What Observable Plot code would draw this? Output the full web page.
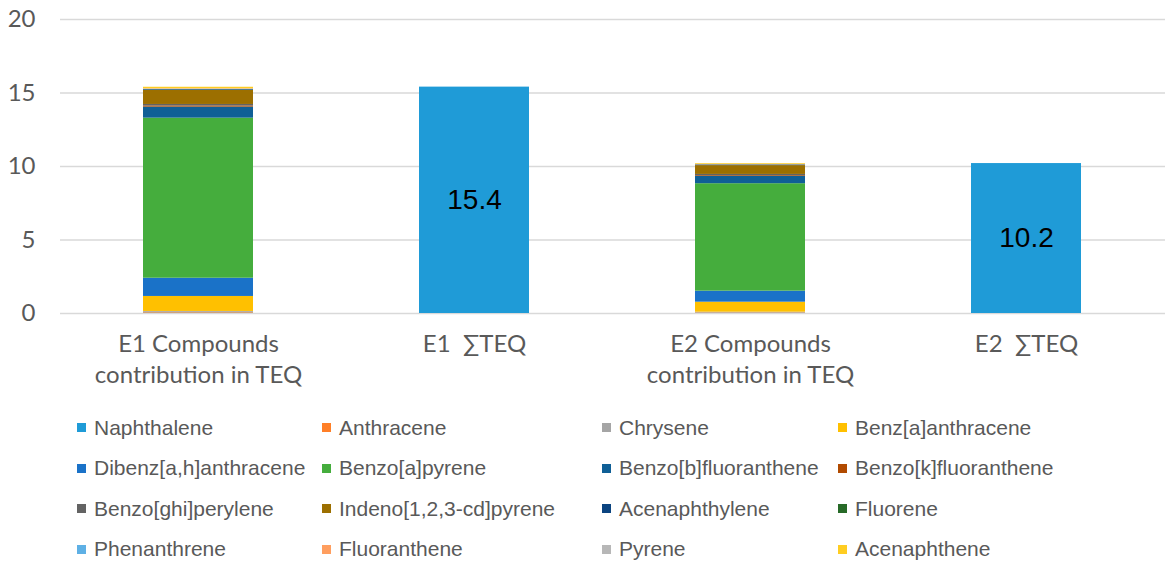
<!DOCTYPE html>
<html><head><meta charset="utf-8">
<script src="https://cdn.jsdelivr.net/npm/d3@7"></script>
<script src="https://cdn.jsdelivr.net/npm/@observablehq/plot@0.6"></script>
<style>
body{margin:0;background:#fff;}
#wrap{position:relative;width:1175px;height:571px;overflow:hidden;background:#fff;}
#chart{position:absolute;left:0;top:0;}
.leg{position:absolute;font-family:"Liberation Sans",Arial,sans-serif;font-size:21px;color:#595959;white-space:nowrap;line-height:24px;height:24px;}
.sw{position:absolute;width:9px;height:9px;}
</style></head><body><div id="wrap"><div id="chart"></div></div>
<script>
const categories = ["E1 Compounds\ncontribution in TEQ", "E1  \u2211TEQ", "E2 Compounds\ncontribution in TEQ", "E2  \u2211TEQ"];
const compounds = ["Naphthalene","Anthracene","Chrysene","Benz[a]anthracene","Dibenz[a,h]anthracene","Benzo[a]pyrene","Benzo[b]fluoranthene","Benzo[k]fluoranthene","Benzo[ghi]perylene","Indeno[1,2,3-cd]pyrene","Acenaphthylene","Fluorene","Phenanthrene","Fluoranthene","Pyrene","Acenaphthene"];
const colors = ["#1f9bd7","#ff7f27","#a5a5a5","#ffc000","#1a72c8","#45ad3d","#0f5f96","#b14a00","#636363","#9c6f00","#0b4480","#276a28","#5eb0e5","#ff9e5f","#b7b7b7","#ffcd21"];
const e1Values = [0.03,0.05,0.06,1.02,1.24,10.89,0.75,0.08,0.10,0.95,0.05,0.01,0.02,0.03,0.01,0.10];
const e2Values = [0.02,0.03,0.04,0.68,0.75,7.31,0.50,0.05,0.08,0.60,0.04,0.01,0.01,0.02,0.01,0.05];
const sumValues = [15.4, 10.2];
const sumLabels = ["15.4", "10.2"];
const yTicks = [0, 5, 10, 15, 20];

const stacked = [];
compounds.forEach((c, i) => stacked.push({cat: categories[0], compound: c, value: e1Values[i]}));
compounds.forEach((c, i) => stacked.push({cat: categories[2], compound: c, value: e2Values[i]}));
const sums = [
  {cat: categories[1], value: sumValues[0], label: sumLabels[0]},
  {cat: categories[3], value: sumValues[1], label: sumLabels[1]}
];

const plot = Plot.plot({
  width: 1175,
  height: 395,
  marginLeft: 60,
  marginRight: 10,
  marginTop: 19,
  marginBottom: 82,
  style: {fontFamily: "Lato, 'Open Sans', sans-serif", fontSize: "24px", color: "#595959", background: "#fff"},
  x: {domain: categories, paddingInner: 0.6, paddingOuter: 0.3, label: null},
  y: {domain: [0, 20], ticks: yTicks, label: null},
  color: {domain: compounds, range: colors},
  marks: [
    Plot.gridY(yTicks, {stroke: "#d9d9d9", strokeOpacity: 1, strokeWidth: 1.3}),
    Plot.barY(stacked, {x: "cat", y: "value", fill: "compound", order: null}),
    Plot.barY(sums, {x: "cat", y: "value", fill: colors[0]}),
    Plot.text(sums, {x: "cat", y: d => d.value / 2, text: "label", fill: "#000", fontSize: 28, fontFamily: "'Liberation Sans', Arial, sans-serif"}),
    Plot.axisY({ticks: yTicks, tickSize: 0, tickPadding: 25, fill: "#595959", label: null}),
    Plot.axisX({tickSize: 0, tickPadding: 16, lineHeight: 1.3, fill: "#595959", label: null})
  ]
});
document.getElementById("chart").appendChild(plot);

const colX = [77, 322, 602, 838];
const rowY = [427.5, 468, 508.5, 549];
const wrap = document.getElementById("wrap");
compounds.forEach((c, i) => {
  const col = i % 4, row = Math.floor(i / 4);
  const sw = document.createElement("div");
  sw.className = "sw";
  sw.style.left = colX[col] + "px";
  sw.style.top = (rowY[row] - 4.5) + "px";
  sw.style.background = colors[i];
  wrap.appendChild(sw);
  const t = document.createElement("div");
  t.className = "leg";
  t.style.left = (colX[col] + 17) + "px";
  t.style.top = (rowY[row] - 12) + "px";
  t.textContent = c;
  wrap.appendChild(t);
});
</script>
</body></html>
